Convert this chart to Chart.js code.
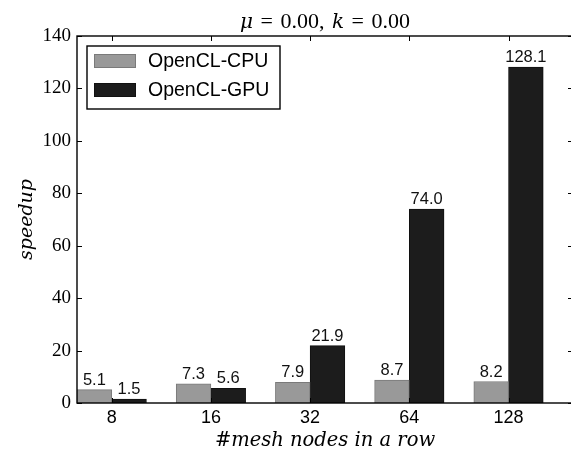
<!DOCTYPE html>
<html><head><meta charset="utf-8">
<script src="https://cdn.jsdelivr.net/npm/chart.js@4"></script>
<style>html,body{margin:0;padding:0;overflow:hidden;background:#fff}#wrap{width:576px;height:454px}</style>
</head><body><div id="wrap"><canvas id="c" width="576" height="454"></canvas></div>
<script>
const categories = ['8', '16', '32', '64', '128'];
const cpuSpeedup = [5.1, 7.3, 7.9, 8.7, 8.2];
const gpuSpeedup = [1.5, 5.6, 21.9, 74.0, 128.1];
const seriesNames = ['OpenCL-CPU', 'OpenCL-GPU'];
const seriesColors = ['#999999', '#1c1c1c'];
const seriesBorders = ['#7a7a7a', '#111111'];
const yTicks = [0, 20, 40, 60, 80, 100, 120, 140];
const titleParts = [['μ', true], [' = ', false], ['0.00, ', false], ['k', true], [' = ', false], ['0.00', false]];
const xTitle = '#mesh nodes in a row';
const yTitle = 'speedup';

const BAR_W = 0.35;
const SANS = '"Liberation Sans", Arial, sans-serif';
const SERIF = '"Liberation Serif", "Times New Roman", serif';
const MATH = '"DejaVu Serif", serif';

const decor = {
  id: 'decor',
  afterDatasetsDraw(chart) {
    const ctx = chart.ctx;
    const a = chart.chartArea;
    const xs = chart.scales.x, ys = chart.scales.y;
    ctx.save();
    // value labels
    ctx.fillStyle = '#111';
    ctx.font = '16.5px ' + SANS;
    ctx.textAlign = 'center';
    ctx.textBaseline = 'alphabetic';
    chart.data.datasets.forEach((ds, di) => {
      chart.getDatasetMeta(di).data.forEach((bar, i) => {
        ctx.fillText(ds.data[i].y.toFixed(1), bar.x, bar.y - 5);
      });
    });
    // spines
    ctx.strokeStyle = '#000';
    ctx.lineWidth = 1.4;
    ctx.strokeRect(a.left, a.top, a.right - a.left, a.bottom - a.top);
    // inward ticks
    ctx.lineWidth = 1;
    const TL = 5;
    ctx.beginPath();
    yTicks.forEach(v => {
      const y = Math.round(ys.getPixelForValue(v)) + 0.5;
      ctx.moveTo(a.left, y); ctx.lineTo(a.left + TL, y);
      ctx.moveTo(a.right, y); ctx.lineTo(a.right - TL, y);
    });
    categories.forEach((c, i) => {
      const x = Math.round(xs.getPixelForValue(i)) + 0.5;
      ctx.moveTo(x, a.top); ctx.lineTo(x, a.top + TL);
      ctx.moveTo(x, a.bottom); ctx.lineTo(x, a.bottom - TL);
    });
    ctx.stroke();
    // legend
    const lx = a.left + 10, ly = a.top + 10, lw = 193, lh = 63;
    ctx.fillStyle = '#fff';
    ctx.fillRect(lx, ly, lw, lh);
    ctx.lineWidth = 1.4;
    ctx.strokeStyle = '#000';
    ctx.strokeRect(lx, ly, lw, lh);
    ctx.font = '19.5px ' + SANS;
    ctx.textAlign = 'left';
    ctx.textBaseline = 'middle';
    chart.data.datasets.forEach((ds, di) => {
      const cy = ly + 15 + di * 29;
      ctx.fillStyle = ds.backgroundColor;
      ctx.fillRect(lx + 7, cy - 7, 42, 14);
      ctx.lineWidth = 1;
      ctx.strokeStyle = ds.borderColor;
      ctx.strokeRect(lx + 7.5, cy - 6.5, 41, 13);
      ctx.fillStyle = '#000';
      ctx.fillText(ds.label, lx + 61, cy + 1);
    });
    // title
    const cx = (a.left + a.right) / 2;
    ctx.textBaseline = 'alphabetic';
    const fonts = it => (it ? 'italic 20px ' + MATH : '22px ' + SERIF);
    const gap = 2;
    let total = 0;
    titleParts.forEach(([t, it]) => { ctx.font = fonts(it); total += ctx.measureText(t).width + gap; });
    total -= gap;
    let tx = cx - total / 2;
    ctx.fillStyle = '#000';
    titleParts.forEach(([t, it]) => {
      ctx.font = fonts(it);
      ctx.fillText(t, tx, 28);
      tx += ctx.measureText(t).width + gap;
    });
    // x title
    ctx.textAlign = 'center';
    ctx.font = 'italic 19.5px ' + MATH;
    ctx.fillText(xTitle, cx, 446);
    // y title
    ctx.save();
    ctx.translate(32, (a.top + a.bottom) / 2);
    ctx.rotate(-Math.PI / 2);
    ctx.font = 'italic 19px ' + MATH;
    ctx.fillText(yTitle, 0, 0);
    ctx.restore();
    ctx.restore();
  }
};

new Chart(document.getElementById('c'), {
  type: 'bar',
  data: {
    datasets: [
      { label: seriesNames[0], data: cpuSpeedup.map((v, i) => ({ x: i - BAR_W / 2, y: v })),
        backgroundColor: seriesColors[0], borderColor: seriesBorders[0], borderWidth: 1,
        grouped: false, barPercentage: 1, categoryPercentage: 1 },
      { label: seriesNames[1], data: gpuSpeedup.map((v, i) => ({ x: i + BAR_W / 2, y: v })),
        backgroundColor: seriesColors[1], borderColor: seriesBorders[1], borderWidth: 1,
        grouped: false, barPercentage: 1, categoryPercentage: 1 }
    ]
  },
  options: {
    responsive: false,
    animation: false,
    devicePixelRatio: 1,
    layout: { padding: { top: 36, right: 3, left: 0, bottom: 0 } },
    plugins: { legend: { display: false }, tooltip: { enabled: false }, title: { display: false } },
    scales: {
      x: {
        type: 'linear', offset: false, min: -BAR_W, max: categories.length - BAR_W,
        afterBuildTicks: s => { s.ticks = categories.map((c, i) => ({ value: i })); },
        afterFit: s => { s.height = 51; },
        ticks: { callback: v => categories[v], font: { family: SANS, size: 18 }, color: '#000', padding: 4, autoSkip: false, maxRotation: 0 },
        grid: { display: false, drawTicks: false, offset: false }, border: { display: false }
      },
      y: {
        min: 0, max: 140,
        afterBuildTicks: s => { s.ticks = yTicks.map(v => ({ value: v })); },
        afterFit: s => { s.width = 77; },
        ticks: { font: { family: SERIF, size: 19 }, color: '#000', padding: 6 },
        grid: { display: false, drawTicks: false }, border: { display: false }
      }
    }
  },
  plugins: [decor]
});
</script></body></html>
